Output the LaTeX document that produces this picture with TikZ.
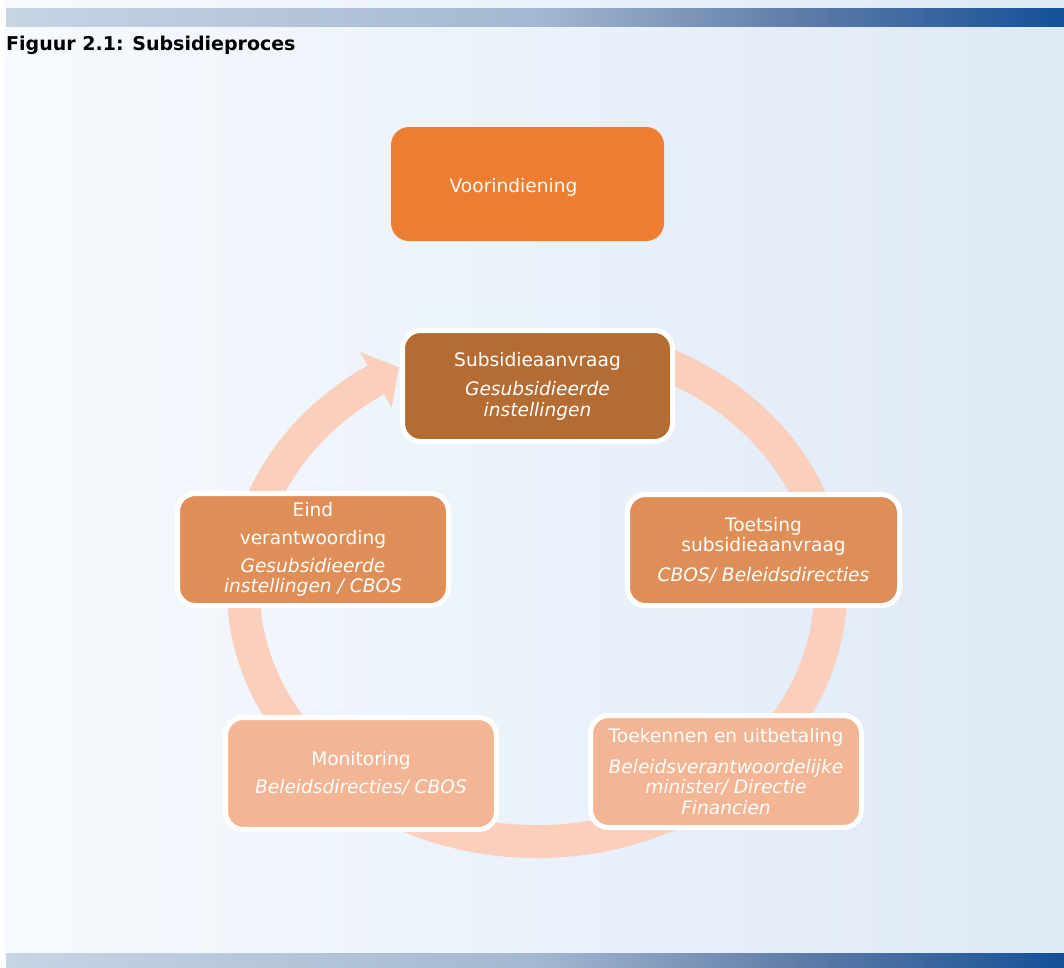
\documentclass[tikz,border=0pt]{standalone}
\usepackage{fontspec}
\setmainfont{DejaVu Sans}
\definecolor{bgL}{RGB}{247,250,254}
\definecolor{bgR}{RGB}{222,233,246}
\definecolor{barA}{RGB}{198,213,228}
\definecolor{barB}{RGB}{165,184,209}
\definecolor{barC}{RGB}{98,126,168}
\definecolor{barD}{RGB}{20,80,152}
\definecolor{ringc}{RGB}{250,207,188}
\definecolor{cVoor}{RGB}{237,125,49}
\definecolor{cSub}{RGB}{180,108,50}
\definecolor{cMid}{RGB}{224,142,88}
\definecolor{cLow}{RGB}{244,181,148}
\pgfdeclarehorizontalshading{barshade}{100bp}{color(0bp)=(barA); color(25bp)=(barA); color(50bp)=(barB); color(62bp)=(barC); color(75bp)=(barD); color(100bp)=(barD)}
\begin{document}
\begin{tikzpicture}[x=1pt,y=-1pt,
  boxfont/.style={font=\fontsize{18.6}{20.5}\selectfont},
  box/.style={rounded corners=18pt, inner sep=0pt, outer sep=0pt, text=white,
    align=center, boxfont},
  wbox/.style={box, draw=white, line width=5pt},
  ringstroke/.style={draw=ringc, line width=33pt, line cap=butt},
  barstyle/.style={shading=barshade}]
\useasboundingbox (0,0) rectangle (1064,967);
% background
\fill[white] (0,0) rectangle (1064,967);
\shade[left color=bgL, right color=bgR] (4,0) rectangle (1064,967);
\shade[barstyle] (6,8) rectangle (1064,26);
\shade[barstyle] (6,953) rectangle (1064,967);
% title
\node[anchor=west, inner sep=0pt, font=\bfseries\fontsize{19}{22}\selectfont] (title) at (6,45) {Figuur 2.1: Subsidieproces};
% cycle ring with arrow head
\draw[ringstroke] (537,590) ++(-66:293.5 and 251.5) arc[start angle=-66, end angle=236.7, x radius=293.5, y radius=251.5];
\fill[ringc] (360.3,352.1) -- (398.6,367.2) -- (391.7,407.9) -- cycle;
% boxes
\node[box, fill=cVoor, minimum width=273pt, minimum height=114pt,
  label={[text=white, boxfont, xshift=-14pt, yshift=-3pt]center:Voorindiening}] (voor) at (527.5,184) {};
\node[wbox, fill=cSub, minimum width=270pt, minimum height=111pt] (sub) at (537.5,386)
  {Subsidieaanvraag\\[9pt]\textit{Gesubsidieerde}\\\textit{instellingen}};
\node[wbox, fill=cMid, minimum width=272pt, minimum height=111pt] (toets) at (763.5,550)
  {Toetsing\\subsidieaanvraag\\[9pt]\textit{CBOS/ Beleidsdirecties}};
\node[wbox, fill=cLow, minimum width=271pt, minimum height=112pt] (toek) at (726,771.5)
  {Toekennen en uitbetaling\\[10pt]\textit{Beleidsverantwoordelijke}\\\textit{minister/ Directie}\\\textit{Financien}};
\node[wbox, fill=cLow, minimum width=271pt, minimum height=112pt] (mon) at (361,773.5)
  {Monitoring\\[8pt]\textit{Beleidsdirecties/ CBOS}};
\node[wbox, fill=cMid, minimum width=271pt, minimum height=112pt] (eind) at (313,549.5)
  {Eind\\[8pt]verantwoording\\[7pt]\textit{Gesubsidieerde}\\\textit{instellingen / CBOS}};
\end{tikzpicture}
\end{document}
